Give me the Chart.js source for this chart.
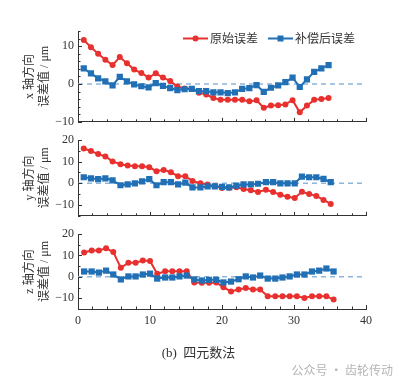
<!DOCTYPE html>
<html>
<head>
<meta charset="utf-8">
<script src="https://cdn.jsdelivr.net/npm/chart.js@4"></script>
<style>
  body { margin: 0; background: #fff; }
  #wrap { position: relative; width: 407px; height: 386px; overflow: hidden; }
  canvas { position: absolute; left: 0; }
  #caption { position: absolute; left: 0; top: 342px; width: 397px; text-align: center;
    font: 13px 'Liberation Serif', 'Noto Sans CJK SC'; color: #333; }
  #mark { position: absolute; right: 14px; top: 361px; font: 12px 'Noto Sans CJK SC'; color: #b4b4b4; }
</style>
</head>
<body>
<div id="wrap">
  <canvas id="cx" width="407" height="133" style="top:0px"></canvas>
  <canvas id="cy" width="407" height="100" style="top:127px"></canvas>
  <canvas id="cz" width="407" height="165" style="top:221px"></canvas>
  <div id="caption">(b)&nbsp; 四元数法</div>
  <div id="mark">公众号 · 齿轮传动</div>
</div>
<script>
// series names
var seriesNames = ['原始误差', '补偿后误差'];

var xPosX = [0.8, 1.8, 2.8, 3.8, 4.8, 5.8, 6.8, 7.8, 8.8, 9.8, 10.8, 11.8, 12.8, 13.8, 14.8, 15.8, 16.8, 17.8,
  18.8, 19.8, 20.8, 21.8, 22.8, 23.8, 24.8, 25.8, 26.8, 27.8, 28.8, 29.8, 30.8, 31.8, 32.8, 33.8, 34.8];
var xPosY = [0.8, 1.8, 2.8, 3.8, 4.8, 5.9, 6.9, 7.9, 8.9, 9.9, 10.9, 11.9, 12.9, 13.9, 14.9, 15.9, 17.0, 18.0,
  19.0, 20.0, 21.0, 22.0, 23.0, 24.0, 25.0, 26.1, 27.1, 28.1, 29.1, 30.1, 31.1, 32.1, 33.1, 34.1, 35.1];
var xPosZ = [0.85, 1.9, 2.9, 3.9, 4.9, 5.95, 7.0, 8.0, 9.0, 10.0, 11.0, 12.1, 13.1, 14.1, 15.1, 16.15, 17.2, 18.2,
  19.2, 20.2, 21.25, 22.3, 23.3, 24.3, 25.3, 26.35, 27.4, 28.4, 29.4, 30.4, 31.45, 32.5, 33.5, 34.5, 35.5];

// x axis
var rawX = [11.6, 9.7, 8.0, 6.4, 5.0, 7.1, 5.5, 3.8, 2.9, 1.7, 2.8, 1.7, 0.8, -0.7, -1.2, -1.3, -2.3, -2.8,
  -3.7, -4.2, -4.2, -4.2, -4.2, -4.6, -4.3, -6.3, -5.7, -5.6, -5.4, -4.3, -7.5, -5.7, -4.2, -4.0, -3.7];
var compX = [4.1, 2.8, 1.5, 0.7, -0.4, 1.9, 0.7, -0.1, -0.6, -0.9, 0.2, -0.5, -1.1, -1.6, -1.4, -1.3, -1.9, -1.9,
  -2.2, -2.2, -2.4, -2.2, -1.3, -1.1, -0.3, -2.1, -1.0, -0.4, 0.5, 1.7, -0.8, 1.2, 3.2, 4.1, 5.0];

// y axis
var rawY = [16.1, 14.9, 13.5, 12.4, 10.1, 8.8, 8.2, 7.9, 7.9, 7.4, 5.6, 6.2, 5.1, 3.3, 3.3, 1.1, 0.0, -0.5,
  -1.3, -2.2, -2.0, -1.8, -2.6, -3.2, -4.0, -3.0, -4.0, -5.3, -6.2, -6.8, -3.9, -4.9, -5.8, -7.7, -9.5];
var compY = [2.8, 2.3, 1.9, 2.3, 1.4, -0.9, -0.5, 0.0, 0.9, 1.9, -0.9, 0.5, 0.5, -0.5, 0.3, -1.9, -1.9, -1.4,
  -1.4, -1.6, -1.9, -1.1, -0.5, -0.5, -0.2, 0.5, 0.5, 0.0, 0.0, 0.0, 3.1, 2.8, 2.8, 2.0, 0.5];

// z axis
var rawZ = [11.4, 12.3, 12.3, 13.3, 11.6, 4.2, 6.6, 6.6, 7.6, 7.4, 1.4, 2.6, 2.6, 2.6, 2.6, -2.6, -2.8, -2.7,
  -2.6, -4.9, -6.8, -5.9, -5.2, -5.9, -5.9, -9.0, -9.0, -9.0, -9.0, -9.0, -9.9, -9.0, -9.0, -9.0, -10.6];
var compZ = [2.5, 2.5, 2.0, 2.9, 1.1, -1.2, 0.2, 0.2, 1.1, 1.5, -0.8, -0.3, -0.3, 0.2, 0.6, -1.2, -1.7, -1.4,
  -1.4, -2.6, -2.2, -1.1, 0.2, -0.3, 0.6, -0.8, -0.8, -0.3, 0.2, 1.1, 1.1, 2.5, 2.9, 3.9, 2.5];

var xTicks = [0, 10, 20, 30, 40];

var red = '#e8312f';
var blue = '#2170b6';
var zeroColor = '#8fb6dc';
var axisColor = '#333333';
var serif = "'Liberation Serif', 'Noto Sans CJK SC'";

function pts(xs, ys) {
  return xs.map(function (x, i) { return { x: x, y: ys[i] }; });
}

function minus(v) {
  return String(v).replace('-', '\u2212');
}

// inward tick marks, like the original plot
var inTicks = {
  id: 'inTicks',
  afterDraw: function (chart) {
    var ctx = chart.ctx, sx = chart.scales.x, sy = chart.scales.y, a = chart.chartArea;
    ctx.save();
    ctx.strokeStyle = axisColor;
    ctx.lineWidth = 1;
    ctx.beginPath();
    sx.ticks.forEach(function (t) {
      var px = Math.round(sx.getPixelForValue(t.value)) + 0.5;
      var len = xTicks.indexOf(t.value) >= 0 ? 4 : 2.5;
      ctx.moveTo(px, a.bottom);
      ctx.lineTo(px, a.bottom - len);
    });
    sy.ticks.forEach(function (t) {
      var py = Math.round(sy.getPixelForValue(t.value)) + 0.5;
      var len = t.value % 10 === 0 ? 4 : 2.5;
      ctx.moveTo(a.left, py);
      ctx.lineTo(a.left + len, py);
    });
    ctx.stroke();
    ctx.restore();
  }
};

// legend with line + marker
var lineLegend = {
  id: 'lineLegend',
  afterDraw: function (chart) {
    if (!chart.options.plugins.lineLegend.show) return;
    var ctx = chart.ctx;
    var items = [
      { x: 183, color: red, style: 'circle', text: seriesNames[0] },
      { x: 268, color: blue, style: 'rect', text: seriesNames[1] }
    ];
    var y = 38.5;
    ctx.save();
    items.forEach(function (it) {
      ctx.strokeStyle = it.color;
      ctx.fillStyle = it.color;
      ctx.lineWidth = 2;
      ctx.beginPath();
      ctx.moveTo(it.x, y);
      ctx.lineTo(it.x + 25, y);
      ctx.stroke();
      if (it.style === 'circle') {
        ctx.beginPath();
        ctx.arc(it.x + 12.5, y, 3, 0, Math.PI * 2);
        ctx.fill();
      } else {
        ctx.fillRect(it.x + 9.5, y - 3, 6, 6);
      }
      ctx.fillStyle = '#333';
      ctx.font = "12px 'Noto Sans CJK SC'";
      ctx.textBaseline = 'middle';
      ctx.fillText(it.text, it.x + 27, y);
    });
    ctx.restore();
  }
};

function makeChart(id, xs, raw, comp, yMin, yMax, yStep, axisName, showX, padTop, padBottom, legend) {
  return new Chart(document.getElementById(id), {
    type: 'line',
    data: {
      datasets: [{
        label: seriesNames[0],
        data: pts(xs, raw),
        borderColor: red,
        backgroundColor: red,
        borderWidth: 2,
        pointRadius: 3,
        pointBorderWidth: 0,
        pointStyle: 'circle',
        order: 2
      }, {
        label: seriesNames[1],
        data: pts(xs, comp),
        borderColor: blue,
        backgroundColor: blue,
        borderWidth: 2,
        pointRadius: 4.4,
        pointBorderWidth: 0,
        pointStyle: 'rect',
        order: 1
      }, {
        label: 'zero',
        data: [{ x: 0, y: 0 }, { x: 40, y: 0 }],
        borderColor: zeroColor,
        borderWidth: 1.5,
        borderDash: [5, 4],
        pointRadius: 0,
        order: 3
      }]
    },
    options: {
      responsive: false,
      animation: false,
      layout: { padding: { top: padTop, bottom: padBottom, left: 0, right: 41 } },
      plugins: {
        legend: { display: false },
        tooltip: { enabled: false },
        lineLegend: { show: legend }
      },
      scales: {
        x: {
          type: 'linear',
          min: 0,
          max: 40,
          grid: { display: false, drawTicks: false },
          border: { display: true, color: axisColor, width: 1 },
          ticks: {
            display: showX,
            stepSize: 2,
            autoSkip: false,
            maxRotation: 0,
            padding: 5,
            color: '#333',
            font: { family: serif, size: 12 },
            callback: function (v) { return xTicks.indexOf(v) >= 0 ? String(v) : ''; }
          },
          afterFit: function (s) { s.height = showX ? 20 : 0; }
        },
        y: {
          min: yMin,
          max: yMax,
          grid: { display: false, drawTicks: false },
          border: { display: true, color: axisColor, width: 1 },
          ticks: {
            stepSize: yStep,
            autoSkip: false,
            padding: 4,
            color: '#333',
            font: { family: serif, size: 12 },
            callback: function (v) { return v % 10 === 0 ? minus(v) : ''; }
          },
          title: {
            display: true,
            text: [axisName + ' 轴方向', '误差值 / μm'],
            color: '#333',
            font: { family: serif, size: 12, lineHeight: 1.25 },
            padding: { top: 22.5, bottom: 0 }
          },
          afterFit: function (s) { s.width = 78; }
        }
      }
    },
    plugins: [inTicks, lineLegend]
  });
}

// chart areas: x 31-123, y 140-217, z 234-309 (page pixels)
makeChart('cx', xPosX, rawX, compX, -10, 14, 2, 'x', false, 31, 10, true);
makeChart('cy', xPosY, rawY, compY, -15, 20, 5, 'y', false, 13, 10, false);
makeChart('cz', xPosZ, rawZ, compZ, -15, 20, 5, 'z', true, 13, 57, false);
</script>
</body>
</html>
